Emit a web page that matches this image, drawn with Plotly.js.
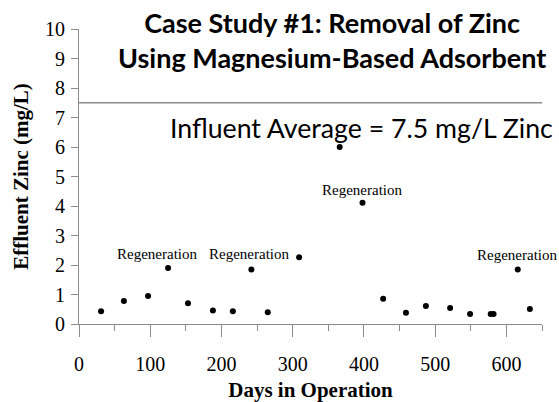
<!DOCTYPE html>
<html>
<head>
<meta charset="utf-8">
<script src="https://cdn.plot.ly/plotly-3.0.1.min.js"></script>
<style>html,body{margin:0;padding:0;background:#fff}#chart{width:559px;height:402px}</style>
</head>
<body>
<div id="chart"></div>
<script>
const days = [31, 63, 97, 125, 153, 188, 216, 242, 265, 309, 366, 398, 427, 459, 487, 521, 549, 578, 582, 616, 633];
const zinc = [0.43, 0.78, 0.95, 1.90, 0.70, 0.46, 0.43, 1.85, 0.40, 2.26, 6.0, 4.11, 0.86, 0.38, 0.61, 0.54, 0.34, 0.34, 0.34, 1.85, 0.51];
const influentAverage = 7.5;
const regenLabelDays = [109, 239, 397, 615];
const regenLabelZinc = [2.37, 2.37, 4.54, 2.34];
const regenLabel = "Regeneration";
const titleText = "Case Study #1: Removal of Zinc<br>Using Magnesium-Based Adsorbent";
const influentText = "Influent Average = 7.5 mg/L Zinc";
const xTitle = "Days in Operation";
const yTitle = "Effluent Zinc (mg/L)";

const serif = "Liberation Serif, Times New Roman, serif";
const gray = "#8c8c8c";

const annotations = regenLabelDays.map((d, i) => ({
  x: d, y: regenLabelZinc[i], xref: "x", yref: "y", text: regenLabel,
  showarrow: false, xanchor: "center", yanchor: "middle",
  font: {family: serif, size: 15, color: "#000"}
}));
annotations.push({
  x: 1.028, y: 6.64, xref: "paper", yref: "y", text: influentText,
  showarrow: false, xanchor: "right", yanchor: "middle",
  font: {family: "Lato, sans-serif", size: 26.7, color: "#000"}
});
annotations.push({
  x: (331 - 79) / 462, y: (324 - 4) / 295, xref: "paper", yref: "paper",
  text: "<b>" + titleText + "</b>",
  showarrow: false, xanchor: "center", yanchor: "top", align: "center",
  font: {family: "Lato, sans-serif", size: 27, color: "#000"}
});

const trace = {
  x: days, y: zinc, type: "scatter", mode: "markers",
  marker: {color: "#000", size: 6}, hoverinfo: "x+y", cliponaxis: false
};

const layout = {
  width: 559, height: 402,
  margin: {l: 79, r: 17, t: 29, b: 78},
  paper_bgcolor: "#fff", plot_bgcolor: "#fff",
  showlegend: false,
  xaxis: {
    range: [0, 650], tick0: 0, dtick: 100, tickmode: "linear",
    ticks: "outside", ticklen: 12, tickwidth: 1, tickcolor: gray,
    minor: {dtick: 50, tick0: 0, ticks: "outside", ticklen: 6, tickcolor: gray, tickwidth: 1, showgrid: false},
    showline: true, linecolor: gray, linewidth: 1,
    showgrid: false, zeroline: false,
    tickfont: {family: serif, size: 20, color: "#000"},
    ticklabelstandoff: 10,
    title: {text: "<b>" + xTitle + "</b>", font: {family: serif, size: 21, color: "#000"}, standoff: 8},
    automargin: false
  },
  yaxis: {
    range: [0, 10], tick0: 0, dtick: 1, tickmode: "linear",
    ticks: "outside", ticklen: 7, tickwidth: 1, tickcolor: gray,
    showline: true, linecolor: gray, linewidth: 1,
    showgrid: false, zeroline: false,
    tickfont: {family: serif, size: 20, color: "#000"},
    ticklabelstandoff: 2,
    title: {text: "<b>" + yTitle + "</b>", font: {family: serif, size: 21, color: "#000"}, standoff: 10},
    automargin: false
  },
  shapes: [{
    type: "line", xref: "paper", x0: 0, x1: 1, yref: "y", y0: influentAverage, y1: influentAverage,
    line: {color: gray, width: 1.5}
  }],
  annotations: annotations
};

Plotly.newPlot("chart", [trace], layout, {displayModeBar: false, staticPlot: true});
</script>
</body>
</html>
